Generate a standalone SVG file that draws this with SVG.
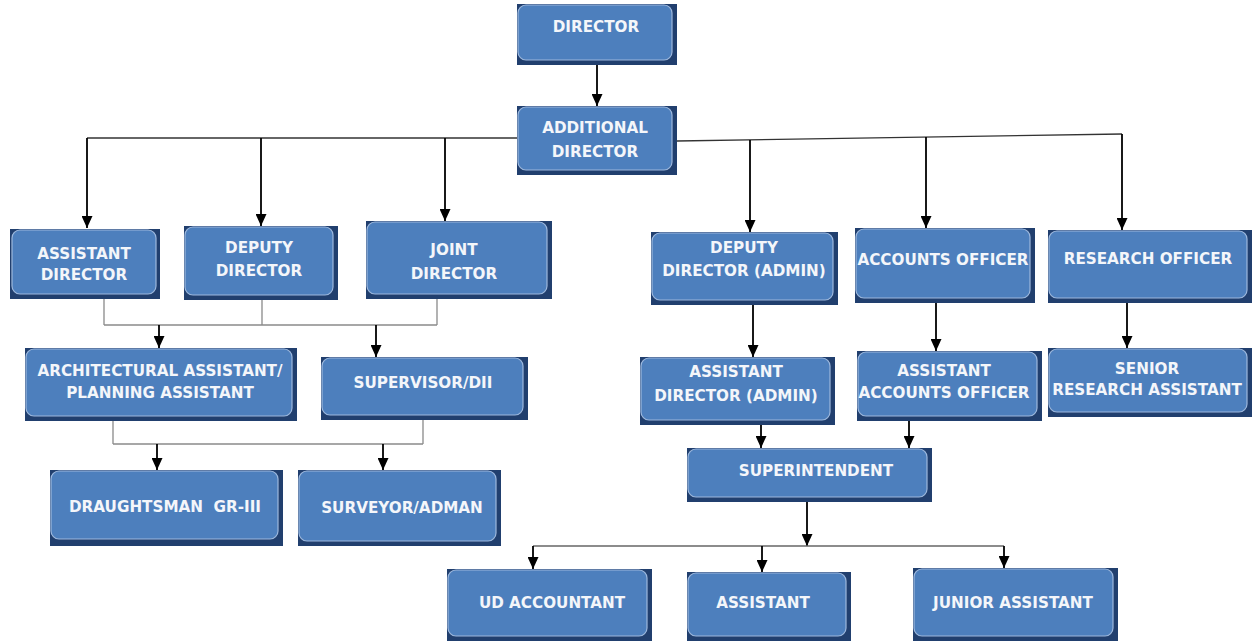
<svg xmlns="http://www.w3.org/2000/svg" width="1257" height="641" viewBox="0 0 1257 641">
<defs>
<marker id="ad" markerWidth="12" markerHeight="11" refX="12" refY="5.5" orient="auto" markerUnits="userSpaceOnUse" viewBox="0 0 12 11">
<path d="M0,0 L12,5.5 L0,11 Z" fill="#000"/>
</marker>
</defs>
<style>
.sh{fill:#213f6e}
.bx{fill:#4d7fbd;stroke:#9db8dd;stroke-width:1.2}
.t{font-family:"DejaVu Sans","Liberation Sans",sans-serif;font-weight:bold;font-size:15.2px;fill:#f4f6fa;text-anchor:middle}
.arr{stroke:#000;stroke-width:1.8;fill:none;marker-end:url(#ad)}
.ln{stroke:#333;stroke-width:1.3;fill:none}
.gl{stroke:#8a8a8a;stroke-width:1.3;fill:none}
</style>
<rect width="1257" height="641" fill="#fff"/>
<g id="connectors">
<path class="arr" d="M597,65 V106"/>
<path class="ln" d="M517,138 H87"/>
<path class="arr" d="M87,138 V228"/>
<path class="arr" d="M261,138 V226"/>
<path class="arr" d="M445,138 V221"/>
<path class="ln" d="M677,141 L1122,134"/>
<path class="arr" d="M750,140 V232"/>
<path class="arr" d="M926,137 V228"/>
<path class="arr" d="M1122,134 V230"/>
<path class="gl" d="M104,299 V325 M262,300 V325 M437,299 V325 M104,325 H437"/>
<path class="arr" d="M159,325 V348"/>
<path class="arr" d="M376,325 V357"/>
<path class="gl" d="M113,421 V444 M423,420 V444 M113,444 H423"/>
<path class="arr" d="M157,444 V470"/>
<path class="arr" d="M383,444 V470"/>
<path class="arr" d="M753,305 V357"/>
<path class="arr" d="M936,303 V351"/>
<path class="arr" d="M1127,303 V348"/>
<path class="arr" d="M761,425 V448"/>
<path class="arr" d="M909,421 V448"/>
<path class="arr" d="M807,502 V546"/>
<path class="gl" d="M533,546 H1004" style="stroke:#666"/>
<path class="arr" d="M533,546 V569"/>
<path class="arr" d="M762,546 V572"/>
<path class="arr" d="M1004,546 V568"/>
</g>
<g id="n-director">
<rect class="sh" x="517" y="4" width="160" height="61"/>
<rect class="bx" x="518" y="5" width="154" height="55" rx="8"/>
<text class="t" x="596" y="32">DIRECTOR</text>
</g>
<g id="n-additional-director">
<rect class="sh" x="517" y="106" width="160" height="69"/>
<rect class="bx" x="518" y="107" width="154" height="63" rx="8"/>
<text class="t" x="595" y="133">ADDITIONAL</text>
<text class="t" x="595" y="157">DIRECTOR</text>
</g>
<g id="n-assistant-director">
<rect class="sh" x="10" y="229" width="150" height="70"/>
<rect class="bx" x="12" y="230" width="144" height="64" rx="8"/>
<text class="t" x="84" y="259">ASSISTANT</text>
<text class="t" x="84" y="280">DIRECTOR</text>
</g>
<g id="n-deputy-director">
<rect class="sh" x="184" y="226" width="154" height="74"/>
<rect class="bx" x="185" y="227" width="148" height="68" rx="8"/>
<text class="t" x="259" y="253">DEPUTY</text>
<text class="t" x="259" y="276">DIRECTOR</text>
</g>
<g id="n-joint-director">
<rect class="sh" x="366" y="221" width="186" height="78"/>
<rect class="bx" x="367" y="222" width="180" height="72" rx="8"/>
<text class="t" x="454" y="255">JOINT</text>
<text class="t" x="454" y="279">DIRECTOR</text>
</g>
<g id="n-architectural-assistant">
<rect class="sh" x="25" y="348" width="272" height="73"/>
<rect class="bx" x="26" y="349" width="266" height="67" rx="8"/>
<text class="t" x="160" y="376">ARCHITECTURAL ASSISTANT/</text>
<text class="t" x="160" y="398">PLANNING ASSISTANT</text>
</g>
<g id="n-supervisor">
<rect class="sh" x="321" y="357" width="207" height="63"/>
<rect class="bx" x="322" y="358" width="201" height="57" rx="8"/>
<text class="t" x="423" y="388">SUPERVISOR/DII</text>
</g>
<g id="n-draughtsman">
<rect class="sh" x="50" y="470" width="233" height="76"/>
<rect class="bx" x="51" y="471" width="227" height="68" rx="8"/>
<text class="t" x="165" y="512" xml:space="preserve">DRAUGHTSMAN  GR-III</text>
</g>
<g id="n-surveyor">
<rect class="sh" x="298" y="470" width="203" height="76"/>
<rect class="bx" x="299" y="471" width="197" height="70" rx="8"/>
<text class="t" x="402" y="513">SURVEYOR/ADMAN</text>
</g>
<g id="n-deputy-director-admin">
<rect class="sh" x="651" y="232" width="187" height="73"/>
<rect class="bx" x="652" y="233" width="181" height="67" rx="8"/>
<text class="t" x="744" y="253">DEPUTY</text>
<text class="t" x="744" y="276">DIRECTOR (ADMIN)</text>
</g>
<g id="n-assistant-director-admin">
<rect class="sh" x="640" y="357" width="195" height="68"/>
<rect class="bx" x="641" y="358" width="189" height="62" rx="8"/>
<text class="t" x="736" y="377">ASSISTANT</text>
<text class="t" x="736" y="401">DIRECTOR (ADMIN)</text>
</g>
<g id="n-accounts-officer">
<rect class="sh" x="855" y="228" width="180" height="75"/>
<rect class="bx" x="856" y="229" width="174" height="69" rx="8"/>
<text class="t" x="943" y="265">ACCOUNTS OFFICER</text>
</g>
<g id="n-assistant-accounts-officer">
<rect class="sh" x="857" y="351" width="185" height="70"/>
<rect class="bx" x="858" y="352" width="179" height="64" rx="8"/>
<text class="t" x="944" y="376">ASSISTANT</text>
<text class="t" x="944" y="398">ACCOUNTS OFFICER</text>
</g>
<g id="n-research-officer">
<rect class="sh" x="1048" y="230" width="204" height="73"/>
<rect class="bx" x="1049" y="231" width="198" height="67" rx="8"/>
<text class="t" x="1148" y="264">RESEARCH OFFICER</text>
</g>
<g id="n-senior-research-assistant">
<rect class="sh" x="1048" y="348" width="204" height="69"/>
<rect class="bx" x="1049" y="349" width="198" height="63" rx="8"/>
<text class="t" x="1147" y="374">SENIOR</text>
<text class="t" x="1147" y="395">RESEARCH ASSISTANT</text>
</g>
<g id="n-superintendent">
<rect class="sh" x="687" y="448" width="245" height="54"/>
<rect class="bx" x="688" y="449" width="239" height="48" rx="8"/>
<text class="t" x="816" y="476">SUPERINTENDENT</text>
</g>
<g id="n-ud-accountant">
<rect class="sh" x="447" y="569" width="205" height="72"/>
<rect class="bx" x="448" y="570" width="199" height="66" rx="8"/>
<text class="t" x="552" y="608">UD ACCOUNTANT</text>
</g>
<g id="n-assistant">
<rect class="sh" x="687" y="572" width="164" height="69"/>
<rect class="bx" x="688" y="573" width="158" height="63" rx="8"/>
<text class="t" x="763" y="608">ASSISTANT</text>
</g>
<g id="n-junior-assistant">
<rect class="sh" x="913" y="568" width="205" height="73"/>
<rect class="bx" x="914" y="569" width="199" height="67" rx="8"/>
<text class="t" x="1013" y="608">JUNIOR ASSISTANT</text>
</g>
</svg>
